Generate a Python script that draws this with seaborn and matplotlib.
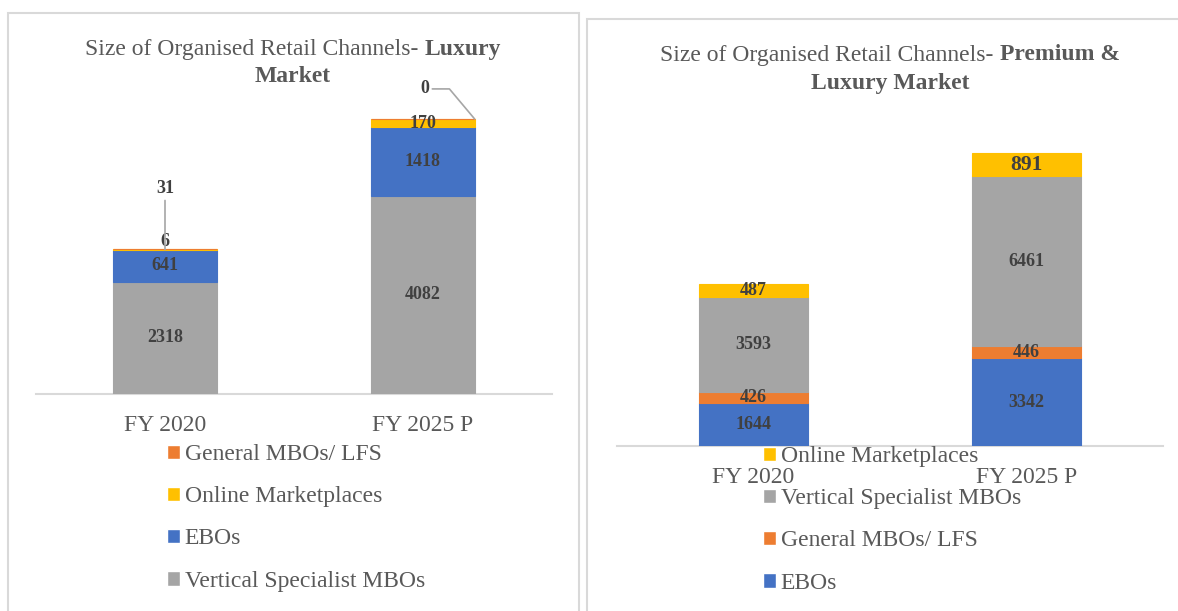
import matplotlib.pyplot as plt
from matplotlib.patches import Patch, Rectangle
import numpy as np
import seaborn as sns

years = ["FY 2020", "FY 2025 P"]

# Luxury market (stack order bottom -> top)
lux_vertical = [2318, 4082]
lux_ebos = [641, 1418]
lux_online = [31, 170]
lux_general = [6, 0]

# Premium & luxury market (stack order bottom -> top)
pl_ebos = [1644, 3342]
pl_general = [426, 446]
pl_vertical = [3593, 6461]
pl_online = [487, 891]

GRAY = "#A5A5A5"
BLUE = "#4472C4"
ORANGE = "#ED7D31"
YELLOW = "#FFC000"
TEXT = "#595959"
LABEL = "#404040"

W, H = 1178, 611

sns.set_theme(style="white")
plt.rcParams["font.family"] = ["Liberation Serif", "DejaVu Serif"]

fig = plt.figure(figsize=(W / 100, H / 100), dpi=100)
renderer = fig.canvas.get_renderer()


def px_axes(x0, y0, x1, y1):
    return fig.add_axes([x0 / W, 1 - y1 / H, (x1 - x0) / W, (y1 - y0) / H])


def fy(y):
    return 1 - y / H


def mixed_line(xc, y, regular, bold):
    ''' one centred title line: regular text followed by bold text '''
    t1 = fig.text(0, fy(y), regular, va="center", fontsize=17, color=TEXT)
    t2 = fig.text(0, fy(y), bold, va="center", fontsize=17, color=TEXT,
                  fontweight="bold")
    w1 = t1.get_window_extent(renderer).width
    w2 = t2.get_window_extent(renderer).width
    left = xc - (w1 + w2) / 2
    t1.set_x(left / W)
    t2.set_x((left + w1) / W)


def stacked(ax, layers, ymax, skip=()):
    ''' draws stacked bars, one seaborn barplot per segment layer '''
    base = np.zeros(len(years))
    bases = []
    for name, vals, col in layers:
        bases.append(base.copy())
        sns.barplot(x=years, y=vals, bottom=base.copy(), color=col, saturation=1,
                    width=0.4, edgecolor=col, linewidth=0.8, ax=ax)
        base = base + np.array(vals)

    # data labels in the middle of each segment
    for k, (name, vals, col) in enumerate(layers):
        for i, v in enumerate(vals):
            if (name, i) in skip:
                continue
            size = 15.5 if (name == "Online Marketplaces" and v == 891) else 13
            ax.text(i, bases[k][i] + v / 2, str(v), ha="center", va="center",
                    fontsize=size, fontweight="bold", color=LABEL)

    ax.set_ylim(0, ymax)
    ax.set_xlim(-0.5, 1.5)
    ax.set_yticks([])
    ax.set_xlabel("")
    ax.set_ylabel("")
    sns.despine(ax=ax, left=True)
    ax.spines["bottom"].set_color("#D9D9D9")
    ax.spines["bottom"].set_linewidth(1.5)
    ax.spines["bottom"].set_zorder(0.5)
    ax.tick_params(axis="x", length=0, pad=15, labelsize=17, labelcolor=TEXT)
    return bases


leg_kw = dict(loc="upper left", frameon=False, fontsize=17, labelcolor=TEXT,
              handlelength=0.55, handleheight=0.55, handletextpad=0.2,
              labelspacing=0.9, borderpad=0, borderaxespad=0)

# ---------- left chart: luxury market ----------
lux_layers = [
    ("Vertical Specialist MBOs", lux_vertical, GRAY),
    ("EBOs", lux_ebos, BLUE),
    ("Online Marketplaces", lux_online, YELLOW),
    ("General MBOs/ LFS", lux_general, ORANGE),
]
ax1 = px_axes(36, 100, 552, 394)
b1 = stacked(ax1, lux_layers, 6060,
             skip={("Online Marketplaces", 0), ("General MBOs/ LFS", 0),
                   ("General MBOs/ LFS", 1)})

lbl = dict(fontsize=13, fontweight="bold", color=LABEL, ha="center", va="center")
line = dict(arrowstyle="-", color="#A6A6A6", lw=1.2, shrinkA=0, shrinkB=0)
# 6 just above the bar top
ax1.annotate(str(lux_general[0]), xy=(0, b1[3][0] + lux_general[0] / 2),
             xytext=(0, 7), textcoords="offset pixels", **lbl)
# 31 pulled up with a leader line
ax1.annotate(str(lux_online[0]), xy=(0, b1[2][0] + lux_online[0] / 2),
             xytext=(0, 61), textcoords="offset pixels", arrowprops=line, **lbl)
# 0 pulled to the upper left of the bar corner
ax1.annotate(str(lux_general[1]), xy=(1.2, b1[3][1] + lux_general[1]),
             xytext=(-50, 30), textcoords="offset pixels",
             arrowprops=dict(line, connectionstyle="angle,angleA=0,angleB=130,rad=0"),
             **lbl)

mixed_line(293, 49, "Size of Organised Retail Channels- ", "Luxury")
fig.text(293 / W, fy(76), "Market", ha="center", va="center", fontsize=17,
         fontweight="bold", color=TEXT)

fig.legend(handles=[Patch(facecolor=c, label=n) for n, _, c in reversed(lux_layers)],
           bbox_to_anchor=(167 / W, fy(444)), **leg_kw)

# ---------- right chart: premium & luxury market ----------
pl_layers = [
    ("EBOs", pl_ebos, BLUE),
    ("General MBOs/ LFS", pl_general, ORANGE),
    ("Vertical Specialist MBOs", pl_vertical, GRAY),
    ("Online Marketplaces", pl_online, YELLOW),
]
ax2 = px_axes(617, 140, 1163, 446)
stacked(ax2, pl_layers, 11635)

mixed_line(890, 55, "Size of Organised Retail Channels- ", "Premium &")
fig.text(890 / W, fy(83), "Luxury Market", ha="center", va="center", fontsize=17,
         fontweight="bold", color=TEXT)

fig.legend(handles=[Patch(facecolor=c, label=n) for n, _, c in reversed(pl_layers)],
           bbox_to_anchor=(763 / W, fy(446)), **leg_kw)

# panel borders
for x0, y0, x1, y1 in [(8, 13, 579, 620), (587, 19, 1190, 620)]:
    fig.add_artist(Rectangle((x0 / W, fy(y1)), (x1 - x0) / W, (y1 - y0) / H,
                             transform=fig.transFigure, fill=False,
                             edgecolor="#D9D9D9", lw=1.5, zorder=0))

fig.savefig("out.png", dpi=100)
